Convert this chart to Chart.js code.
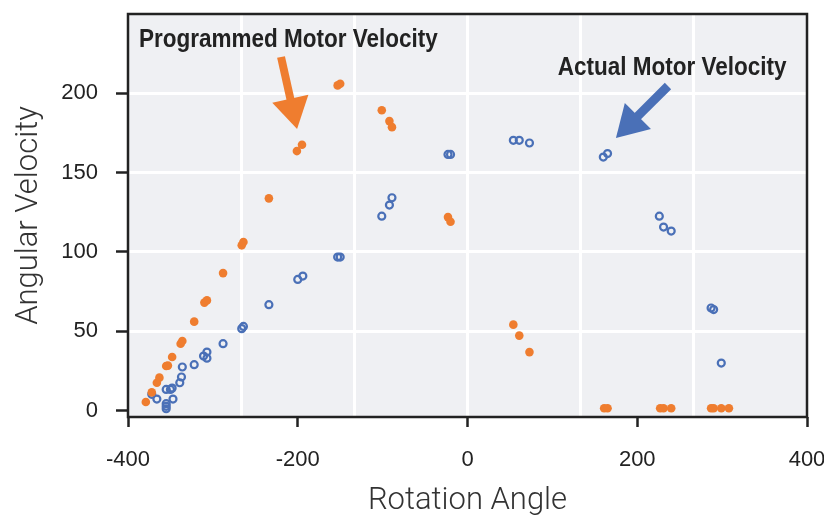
<!DOCTYPE html>
<html>
<head>
<meta charset="utf-8">
<script src="https://cdn.jsdelivr.net/npm/chart.js@4.4.1/dist/chart.umd.min.js"></script>
<style>
  html, body { margin: 0; padding: 0; background: #fff; }
  #wrap { width: 824px; height: 520px; }
</style>
</head>
<body>
<div id="wrap"><canvas id="chart" width="824" height="520"></canvas></div>
<script>
// programmed (orange, filled) and actual (blue, open) motor velocity
const programmedAngle = [-379, -372, -366, -363, -355, -353, -348, -338, -336, -322, -310, -307, -288,
  -266, -264, -234, -201, -195, -153, -150, -101, -92, -89, -23, -20, 54, 61, 73,
  161, 165, 227, 231, 240, 287, 290, 299, 308];
const programmedVelocity = [5.5, 11.5, 17.6, 20.8, 28.1, 28.4, 33.8, 42.2, 43.9, 56.1, 68.1, 69.5, 86.7,
  104.2, 106.3, 133.8, 163.6, 167.6, 205, 206, 189.3, 182.5, 178.7, 122, 119.1, 54.2, 47.3, 36.9,
  1.5, 1.5, 1.5, 1.5, 1.5, 1.5, 1.5, 1.5, 1.5];

const actualAngle = [-372, -366, -355, -355, -355, -355, -350, -348, -347, -339, -337, -336, -322,
  -311, -307, -307, -288, -266, -264, -234, -200, -194, -153, -150, -101, -92, -89, -23, -20,
  54, 61, 73, 160, 165, 226, 231, 240, 287, 290, 299];
const actualVelocity = [10.3, 7.3, 4.4, 2.7, 1.2, 13.4, 13.4, 14.2, 7.3, 17.6, 21.2, 27.5, 29,
  34.4, 33.1, 36.9, 42.2, 51.7, 53.1, 66.8, 82.7, 84.8, 96.8, 96.8, 122.6, 129.6, 134.2, 161.5, 161.5,
  170.4, 170.4, 168.7, 159.8, 162, 122.6, 115.7, 113.2, 64.7, 63.7, 30];

const xTickValues = [-400, -200, 0, 200, 400];
const xGridValues = [-800 / 3, -400 / 3, 0, 400 / 3, 800 / 3];
const yTickValues = [0, 50, 100, 150, 200];

const ORANGE = '#ef7d2f';
const BLUE = '#4a70b7';
const INK = '#222';

function toPoints(xs, ys) {
  return xs.map((x, i) => ({ x: x, y: ys[i] }));
}

const framePlugin = {
  id: 'frame',
  beforeDraw(chart) {
    const { ctx, chartArea: a } = chart;
    ctx.save();
    ctx.fillStyle = '#eff0f3';
    ctx.fillRect(a.left, a.top, a.right - a.left, a.bottom - a.top);
    ctx.restore();
  },
  afterDraw(chart) {
    const { ctx, chartArea: a } = chart;
    ctx.save();
    ctx.strokeStyle = INK;
    ctx.lineWidth = 2.5;
    ctx.strokeRect(a.left, a.top, a.right - a.left, a.bottom - a.top);
    ctx.restore();
  }
};

function drawArrow(ctx, x0, y0, x1, y1, color, shaft, headLen, headHalf) {
  const dx = x1 - x0, dy = y1 - y0;
  const len = Math.hypot(dx, dy);
  const ux = dx / len, uy = dy / len;
  const bx = x1 - ux * headLen, by = y1 - uy * headLen;
  ctx.save();
  ctx.strokeStyle = color;
  ctx.fillStyle = color;
  ctx.lineWidth = shaft;
  ctx.beginPath();
  ctx.moveTo(x0, y0);
  ctx.lineTo(bx + ux * 2, by + uy * 2);
  ctx.stroke();
  ctx.beginPath();
  ctx.moveTo(x1, y1);
  ctx.lineTo(bx - uy * headHalf, by + ux * headHalf);
  ctx.lineTo(bx + uy * headHalf, by - ux * headHalf);
  ctx.closePath();
  ctx.fill();
  ctx.restore();
}

// condensed bold look: squeeze the text horizontally
function condensedText(ctx, text, x, y, align) {
  const squeeze = 0.9;
  ctx.save();
  ctx.translate(x, y);
  ctx.scale(squeeze, 1);
  ctx.textAlign = align;
  ctx.fillText(text, 0, 0);
  ctx.restore();
}

const labelPlugin = {
  id: 'labels',
  afterDatasetsDraw(chart) {
    const { ctx, scales: { x, y } } = chart;
    const px = v => x.getPixelForValue(v);
    const py = v => y.getPixelForValue(v);
    ctx.save();
    ctx.fillStyle = INK;
    ctx.font = 'bold 25px "Liberation Sans", sans-serif';
    ctx.textBaseline = 'middle';
    condensedText(ctx, 'Programmed Motor Velocity', px(-387), py(233.8), 'left');
    condensedText(ctx, 'Actual Motor Velocity', px(376), py(216), 'right');
    ctx.restore();
    drawArrow(ctx, px(-219.7), py(222.9), px(-200.8), py(177.5), ORANGE, 8, 31, 18.5);
    drawArrow(ctx, px(236.2), py(204.6), px(174.9), py(171.9), BLUE, 9, 31, 18.5);
  }
};

new Chart(document.getElementById('chart'), {
  type: 'scatter',
  data: {
    datasets: [
      {
        label: 'Programmed Motor Velocity',
        data: toPoints(programmedAngle, programmedVelocity),
        backgroundColor: ORANGE,
        borderColor: ORANGE,
        borderWidth: 0,
        pointRadius: 4.3
      },
      {
        label: 'Actual Motor Velocity',
        data: toPoints(actualAngle, actualVelocity),
        backgroundColor: 'transparent',
        borderColor: BLUE,
        borderWidth: 2.2,
        pointRadius: 3.5
      }
    ]
  },
  options: {
    responsive: false,
    animation: false,
    devicePixelRatio: 1,
    layout: { padding: { left: 0, right: 17, top: 14, bottom: 0 } },
    plugins: {
      legend: { display: false },
      tooltip: { enabled: false }
    },
    scales: {
      x: {
        type: 'linear',
        position: 'bottom',
        min: -400,
        max: 400,
        afterBuildTicks: s => { s.ticks = xTickValues.map(v => ({ value: v })); },
        afterFit: s => { s.height = 103; s.paddingLeft = 0; s.paddingRight = 0; },
        border: { display: false },
        grid: { drawOnChartArea: false, tickLength: 10, tickColor: INK, tickWidth: 2.5 },
        ticks: { color: INK, padding: 20, maxRotation: 0, font: { family: 'Liberation Sans', size: 22 } },
        title: {
          display: true,
          text: 'Rotation Angle',
          color: '#333',
          padding: { top: 0, bottom: 0 },
          font: { family: 'Roboto', weight: 300, size: 31 }
        }
      },
      xgrid: {
        type: 'linear',
        position: 'bottom',
        min: -400,
        max: 400,
        afterBuildTicks: s => { s.ticks = xGridValues.map(v => ({ value: v })); },
        afterFit: s => { s.height = 0; s.paddingLeft = 0; s.paddingRight = 0; },
        border: { display: false },
        grid: { color: '#fff', lineWidth: 3, drawTicks: false },
        ticks: { display: false }
      },
      y: {
        type: 'linear',
        min: -4,
        max: 250,
        afterBuildTicks: s => { s.ticks = yTickValues.map(v => ({ value: v })); },
        afterFit: s => { s.width = 128; s.paddingTop = 0; s.paddingBottom = 0; },
        border: { display: false },
        grid: {
          color: c => (c.tick && c.tick.value === 0 ? 'rgba(0,0,0,0)' : '#fff'),
          lineWidth: 3,
          tickLength: 12,
          tickColor: INK,
          tickWidth: 2.5
        },
        ticks: { color: INK, padding: 18, font: { family: 'Liberation Sans', size: 22 } },
        title: {
          display: true,
          text: 'Angular Velocity',
          color: '#333',
          padding: { top: 11, bottom: 0 },
          font: { family: 'Roboto', weight: 300, size: 31 }
        }
      }
    }
  },
  plugins: [framePlugin, labelPlugin]
});
</script>
</body>
</html>
